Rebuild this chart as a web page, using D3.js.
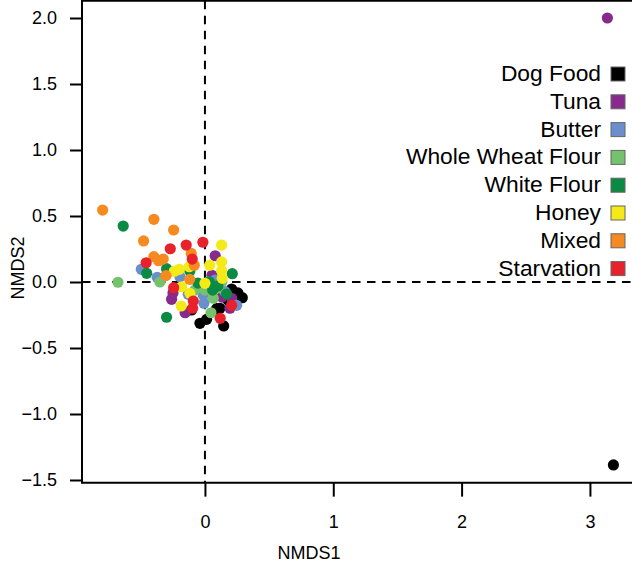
<!DOCTYPE html>
<html>
<head>
<meta charset="utf-8">
<script src="https://cdn.jsdelivr.net/npm/d3@7"></script>
<style>
  html, body { margin: 0; padding: 0; background: #fff; }
  svg { display: block; font-family: "Liberation Sans", Arial, Helvetica, sans-serif; }
</style>
</head>
<body>
<svg id="chart" width="632" height="565"></svg>
<script>
// Diet groups and their colours
const groups = ["Dog Food", "Tuna", "Butter", "Whole Wheat Flour", "White Flour", "Honey", "Mixed", "Starvation"];
const groupColors = ["#000000", "#862a8c", "#6b8fcc", "#74c26d", "#0a8a43", "#f3ea18", "#f58a21", "#e8222a"];

// NMDS scores per group, [NMDS1, NMDS2]
const dogFood = [[0.208, -0.053], [0.291, -0.119], [0.091, -0.202], [-0.104, -0.212], [-0.039, -0.313],
  [0.013, -0.283], [0.146, -0.333], [0.117, -0.199], [0.179, -0.136], [0.257, -0.083], [-0.288, 0.076], [3.183, -1.386]];
const tuna = [[0.080, 0.199], [0.055, 0.051], [-0.260, -0.131], [-0.154, -0.233], [0.208, -0.123],
  [0.195, -0.199], [0.132, -0.114], [-0.249, -0.083], [3.136, 2.0]];
const butter = [[-0.496, 0.096], [-0.372, 0.036], [-0.195, 0.040], [-0.130, -0.093], [-0.008, -0.161],
  [0.247, -0.177], [0.156, -0.073], [-0.013, -0.098], [0.078, 0.015]];
const wholeWheat = [[-0.678, -0.002], [-0.351, 0.0], [-0.039, -0.023], [0.0, -0.061], [-0.078, -0.061],
  [0.065, -0.123], [0.047, -0.233], [0.023, 0.0], [0.101, -0.045], [0.132, 0.0]];
const whiteFlour = [[-0.637, 0.424], [-0.454, 0.066], [-0.299, 0.101], [-0.117, 0.083], [0.213, 0.063],
  [0.034, 0.002], [0.060, -0.061], [0.169, -0.091], [-0.299, -0.267], [-0.055, -0.008], [0.101, -0.030]];
const honey = [[0.130, 0.280], [0.037, 0.127], [-0.239, 0.081], [-0.200, 0.096], [0.130, 0.086],
  [0.135, 0.028], [0.0, -0.010], [-0.185, -0.182], [-0.117, -0.086], [-0.182, -0.036], [-0.122, 0.116], [0.130, 0.152]];
const mixed = [[-0.797, 0.545], [-0.398, 0.475], [-0.244, 0.394], [-0.478, 0.311], [-0.107, 0.217],
  [-0.398, 0.192], [-0.361, 0.161], [-0.325, 0.174], [-0.083, 0.127], [-0.304, 0.048], [-0.119, 0.020]];
const starvation = [[-0.146, 0.280], [-0.016, 0.301], [-0.270, 0.252], [-0.099, 0.174], [-0.458, 0.146],
  [-0.244, -0.043], [-0.091, -0.144], [-0.096, -0.199], [0.208, -0.177], [0.119, -0.275]];

const xTicks = [0, 1, 2, 3];
const yTicks = [-1.5, -1.0, -0.5, 0.0, 0.5, 1.0, 1.5, 2.0];

const seriesPoints = [dogFood, tuna, butter, wholeWheat, whiteFlour, honey, mixed, starvation];
const points = [];
seriesPoints.forEach((pts, gi) => pts.forEach(p => points.push({ x: p[0], y: p[1], g: gi })));

const svg = d3.select("#chart");
const fontSize = 18;

const x = d3.scaleLinear().domain([-0.958, 3.4]).range([82, 82 + 4.358 * 128.33]);
const y = d3.scaleLinear().domain([-1.52, 2.13]).range([282 + 1.52 * 132, 282 - 2.13 * 132]);

const plotLeft = x(-0.958), plotBottom = y(-1.52), plotTop = y(2.13), plotRight = x(3.4);

// reference lines through the origin
svg.append("line")
  .attr("x1", x(0)).attr("x2", x(0)).attr("y1", plotTop).attr("y2", plotBottom)
  .attr("stroke", "#000").attr("stroke-width", 2).attr("stroke-dasharray", "8.5,6.5");
svg.append("line")
  .attr("x1", plotLeft).attr("x2", plotRight).attr("y1", y(0)).attr("y2", y(0))
  .attr("stroke", "#000").attr("stroke-width", 2).attr("stroke-dasharray", "8.5,6.5");

// points
svg.append("g").selectAll("circle").data(points).join("circle")
  .attr("cx", d => x(d.x)).attr("cy", d => y(d.y)).attr("r", 5.6)
  .attr("fill", d => groupColors[d.g]);

// frame
svg.append("path")
  .attr("d", `M${plotRight},${plotTop}H${plotLeft}V${plotBottom}H${plotRight}`)
  .attr("fill", "none").attr("stroke", "#000").attr("stroke-width", 2);

// axes
const yAxis = d3.axisLeft(y).tickValues(yTicks).tickSize(12).tickPadding(13)
  .tickFormat(d => d3.format(".1f")(d).replace("-", "\u2212"));
const gy = svg.append("g").attr("transform", `translate(${plotLeft},0)`).call(yAxis);
gy.select(".domain").remove();
gy.selectAll(".tick line").attr("stroke-width", 2);
gy.selectAll(".tick text").attr("font-size", fontSize).attr("font-family", null).attr("fill", "#000");

const xAxis = d3.axisBottom(x).tickValues(xTicks).tickSize(14).tickPadding(19)
  .tickFormat(d3.format("d"));
const gx = svg.append("g").attr("transform", `translate(0,${plotBottom})`).call(xAxis);
gx.select(".domain").remove();
gx.selectAll(".tick line").attr("stroke-width", 2);
gx.selectAll(".tick text").attr("font-size", fontSize).attr("font-family", null).attr("fill", "#000");

// axis titles
svg.append("text").attr("x", 309).attr("y", 559).attr("text-anchor", "middle")
  .attr("font-size", fontSize).text("NMDS1");
svg.append("text").attr("transform", "translate(24,268) rotate(-90)").attr("text-anchor", "middle")
  .attr("font-size", fontSize).text("NMDS2");

// legend
const legend = svg.append("g");
const rowY = d3.scaleLinear().domain([0, 7]).range([81, 81 + 7 * 27.8]);
groups.forEach((name, i) => {
  legend.append("text").attr("x", 601).attr("y", rowY(i)).attr("text-anchor", "end")
    .attr("font-size", 22.8).text(name);
  legend.append("rect").attr("x", 611).attr("y", rowY(i) - 14).attr("width", 14).attr("height", 14)
    .attr("fill", groupColors[i]).attr("stroke", "#666").attr("stroke-width", 1);
});
</script>
</body>
</html>
